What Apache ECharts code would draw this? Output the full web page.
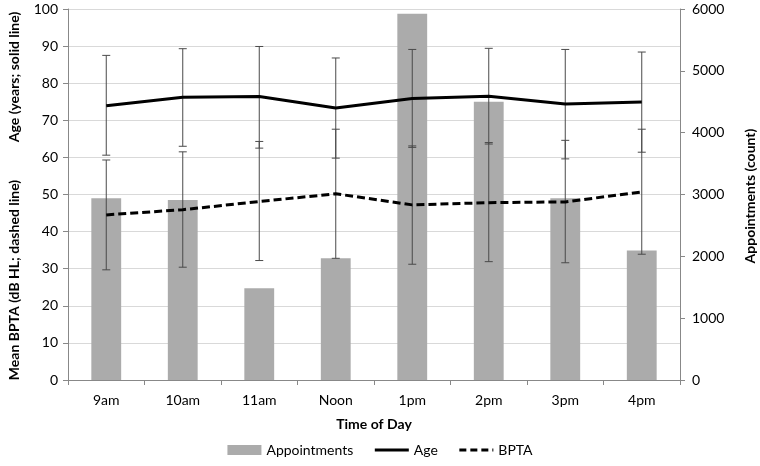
<!DOCTYPE html>
<html><head><meta charset="utf-8">
<script src="https://cdn.jsdelivr.net/npm/echarts@6/dist/echarts.min.js"></script>
<style>html,body{margin:0;padding:0;background:#fff}#c{width:760px;height:466px}</style>
</head><body><div id="c"></div>
<script>
const categories = ['9am','10am','11am','Noon','1pm','2pm','3pm','4pm'];
const appointments = [2940, 2910, 1485, 1970, 5925, 4500, 2940, 2095];
const ageMean = [73.9, 76.2, 76.4, 73.3, 75.9, 76.5, 74.4, 74.9];
const ageLow  = [60.6, 63.0, 62.5, 59.8, 62.7, 63.6, 59.6, 61.4];
const ageHigh = [87.5, 89.3, 89.9, 86.8, 89.1, 89.4, 89.1, 88.4];
const bptaMean = [44.5, 45.9, 48.1, 50.2, 47.2, 47.8, 48.0, 50.7];
const bptaLow  = [29.7, 30.4, 32.2, 32.8, 31.2, 31.9, 31.6, 33.9];
const bptaHigh = [59.3, 61.5, 64.3, 67.6, 63.1, 64.0, 64.6, 67.6];
const leftTicks = [0, 100, 10];
const rightTicks = [0, 6000, 1000];

const FONT = 'Lato, "Open Sans", sans-serif';
const errData = (lo, hi) => categories.map((c, i) => [i, lo[i], hi[i]]);
function errRender(params, api) {
  const i = api.value(0);
  const lo = api.coord([i, api.value(1)]);
  const hi = api.coord([i, api.value(2)]);
  const w = 4;
  const st = { stroke: '#4a4a4a', lineWidth: 1 };
  return { type: 'group', children: [
    { type: 'line', shape: { x1: hi[0], y1: hi[1], x2: lo[0], y2: lo[1] }, style: st },
    { type: 'line', shape: { x1: hi[0]-w, y1: hi[1], x2: hi[0]+w, y2: hi[1] }, style: st },
    { type: 'line', shape: { x1: lo[0]-w, y1: lo[1], x2: lo[0]+w, y2: lo[1] }, style: st }
  ]};
}

const chart = echarts.init(document.getElementById('c'));
chart.setOption({
  animation: false,
  textStyle: { fontFamily: FONT },
  grid: { left: 68, right: 80, top: 9, bottom: 86 },
  legend: {
    bottom: 4, left: 'center', itemGap: 20, itemWidth: 34, itemHeight: 10,
    textStyle: { fontFamily: FONT, fontSize: 14, color: '#000' },
    data: [
      { name: 'Appointments', icon: 'rect' },
      { name: 'Age', itemStyle: { opacity: 0 }, lineStyle: { width: 3 } },
      { name: 'BPTA', itemStyle: { opacity: 0 }, lineStyle: { width: 3, type: [7, 4] } }
    ]
  },
  xAxis: {
    type: 'category', data: categories,
    axisLine: { lineStyle: { color: '#888' } },
    axisTick: { show: true, length: 5, lineStyle: { color: '#888' } },
    axisLabel: { color: '#000', fontSize: 14, margin: 13, fontFamily: FONT },
    name: 'Time of Day', nameLocation: 'middle', nameGap: 37,
    nameTextStyle: { fontWeight: 'bold', fontSize: 14, color: '#000', fontFamily: FONT }
  },
  yAxis: [
    { type: 'value', min: leftTicks[0], max: leftTicks[1], interval: leftTicks[2],
      axisLine: { show: true, lineStyle: { color: '#888' } },
      axisTick: { show: true, length: 5, lineStyle: { color: '#888' } },
      axisLabel: { color: '#000', fontSize: 14, margin: 10, fontFamily: FONT },
      splitLine: { lineStyle: { color: '#d9d9d9' } } },
    { type: 'value', min: rightTicks[0], max: rightTicks[1], interval: rightTicks[2], position: 'right',
      axisLine: { show: true, lineStyle: { color: '#888' } },
      axisTick: { show: true, length: 5, lineStyle: { color: '#888' } },
      axisLabel: { color: '#000', fontSize: 14, margin: 12, fontFamily: FONT, formatter: v => String(v) },
      splitLine: { show: false } }
  ],
  graphic: [
    { type: 'text', x: 14, y: 77, rotation: Math.PI/2,
      style: { text: 'Age (years; solid line)', font: 'bold 14px ' + FONT, fill: '#000', align: 'center', verticalAlign: 'middle' } },
    { type: 'text', x: 14, y: 280, rotation: Math.PI/2,
      style: { text: 'Mean BPTA (dB HL; dashed line)', font: 'bold 14px ' + FONT, fill: '#000', align: 'center', verticalAlign: 'middle' } },
    { type: 'text', x: 750, y: 196, rotation: Math.PI/2,
      style: { text: 'Appointments (count)', font: 'bold 14px ' + FONT, fill: '#000', align: 'center', verticalAlign: 'middle' } }
  ],
  series: [
    { name: 'Appointments', type: 'bar', yAxisIndex: 1, data: appointments, barWidth: '39%',
      itemStyle: { color: '#ababab' }, z: 1 },
    { name: 'ageErr', type: 'custom', yAxisIndex: 0, data: errData(ageLow, ageHigh), renderItem: errRender, z: 3, silent: true },
    { name: 'bptaErr', type: 'custom', yAxisIndex: 0, data: errData(bptaLow, bptaHigh), renderItem: errRender, z: 3, silent: true },
    { name: 'Age', type: 'line', yAxisIndex: 0, data: ageMean, symbol: 'none', z: 5,
      lineStyle: { color: '#000', width: 3, type: 'solid' }, itemStyle: { color: '#000' } },
    { name: 'BPTA', type: 'line', yAxisIndex: 0, data: bptaMean, symbol: 'none', z: 5,
      lineStyle: { color: '#000', width: 3, type: [8, 4] }, itemStyle: { color: '#000' } }
  ]
});
</script></body></html>
